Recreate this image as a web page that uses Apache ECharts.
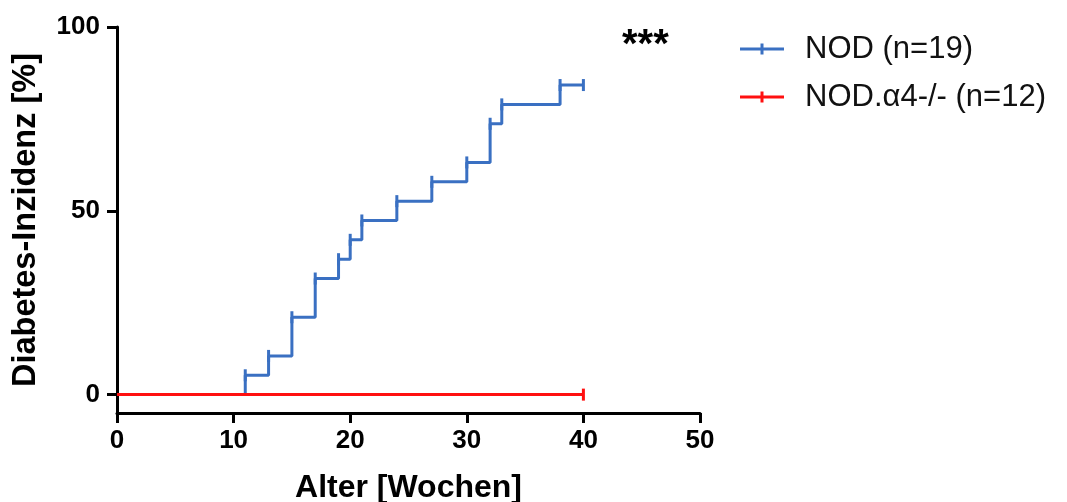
<!DOCTYPE html>
<html>
<head>
<meta charset="utf-8">
<script src="https://cdn.jsdelivr.net/npm/echarts@6/dist/echarts.min.js"></script>
<style>
  html, body { margin: 0; padding: 0; background: #fff; }
  #chart { width: 1067px; height: 502px; }
</style>
</head>
<body>
<div id="chart"></div>
<script>
// ---- data ----
var seriesNames = ['NOD (n=19)', 'NOD.\u03b14-/- (n=12)'];
var nodWeeks = [0, 11, 13, 15, 17, 19, 20, 21, 24, 27, 30, 32, 33, 38, 40];
var nodIncidence = [0, 5.26, 10.53, 21.05, 31.58, 36.84, 42.11, 47.37, 52.63, 57.89, 63.16, 73.68, 78.95, 84.21, 84.21];
var koWeeks = [0, 40];
var koIncidence = [0, 0];
var xTicks = [0, 10, 20, 30, 40, 50];
var yTicks = [0, 50, 100];
var significance = '***';

var BLUE = '#3a70c2';
var RED = '#ff1010';
var FONT = '"Liberation Sans", Arial, sans-serif';

function buildData(xs, ys) {
  return xs.map(function (x, i) {
    var item = { value: [x, ys[i]] };
    if (i === 0) item.symbol = 'none';
    return item;
  });
}

var chart = echarts.init(document.getElementById('chart'), null, { renderer: 'canvas' });
var legendIcon = 'path://M0,4h44v3h-44z M20.5,0h3v11h-3z';

chart.setOption({
  animation: false,
  backgroundColor: '#ffffff',
  grid: { left: 117, right: 367, top: 27, bottom: 89, containLabel: false, outerBoundsMode: 'none' },
  xAxis: {
    type: 'value',
    min: 0, max: 50, interval: 10,
    name: 'Alter [Wochen]',
    nameLocation: 'middle',
    nameGap: 59,
    nameTextStyle: { fontFamily: FONT, fontWeight: 'bold', fontSize: 32, color: '#000' },
    axisLine: { show: true, onZero: false, lineStyle: { color: '#000', width: 3 } },
    axisTick: { show: true, length: 10, lineStyle: { color: '#000', width: 3 } },
    axisLabel: { fontFamily: FONT, fontWeight: 'bold', fontSize: 26, color: '#000', margin: 15,
      formatter: function (v) { return xTicks.indexOf(v) >= 0 ? String(v) : ''; } },
    splitLine: { show: false }
  },
  yAxis: {
    type: 'value',
    min: -5, max: 100,
    name: 'Diabetes-Inzidenz [%]',
    nameLocation: 'middle',
    nameGap: 74,
    nameTextStyle: { fontFamily: FONT, fontWeight: 'bold', fontSize: 32.5, color: '#000' },
    axisLine: { show: true, onZero: false, lineStyle: { color: '#000', width: 3 } },
    axisTick: { show: true, length: 10, customValues: yTicks, lineStyle: { color: '#000', width: 3 } },
    axisLabel: { fontFamily: FONT, fontWeight: 'bold', fontSize: 26, color: '#000', margin: 17,
      customValues: yTicks },
    splitLine: { show: false }
  },
  legend: {
    orient: 'vertical',
    left: 735, top: 27,
    itemWidth: 44, itemHeight: 12,
    itemGap: 14,
    icon: legendIcon,
    textStyle: { fontFamily: FONT, fontSize: 31, color: '#111', lineHeight: 34, padding: [0, 0, 0, 16] },
    data: seriesNames
  },
  graphic: [{
    type: 'text',
    left: 622, top: 26,
    style: { text: significance, font: 'bold 40px ' + FONT, fill: '#000' }
  }],
  series: [
    {
      name: seriesNames[0],
      type: 'line',
      step: 'end',
      data: buildData(nodWeeks, nodIncidence),
      symbol: 'rect',
      symbolSize: [3, 12],
      showSymbol: true,
      lineStyle: { color: BLUE, width: 3 },
      itemStyle: { color: BLUE },
      emphasis: { disabled: true }
    },
    {
      name: seriesNames[1],
      type: 'line',
      step: 'end',
      data: buildData(koWeeks, koIncidence),
      symbol: 'rect',
      symbolSize: [3, 12],
      showSymbol: true,
      lineStyle: { color: RED, width: 3 },
      itemStyle: { color: RED },
      emphasis: { disabled: true }
    }
  ]
});
</script>
</body>
</html>
